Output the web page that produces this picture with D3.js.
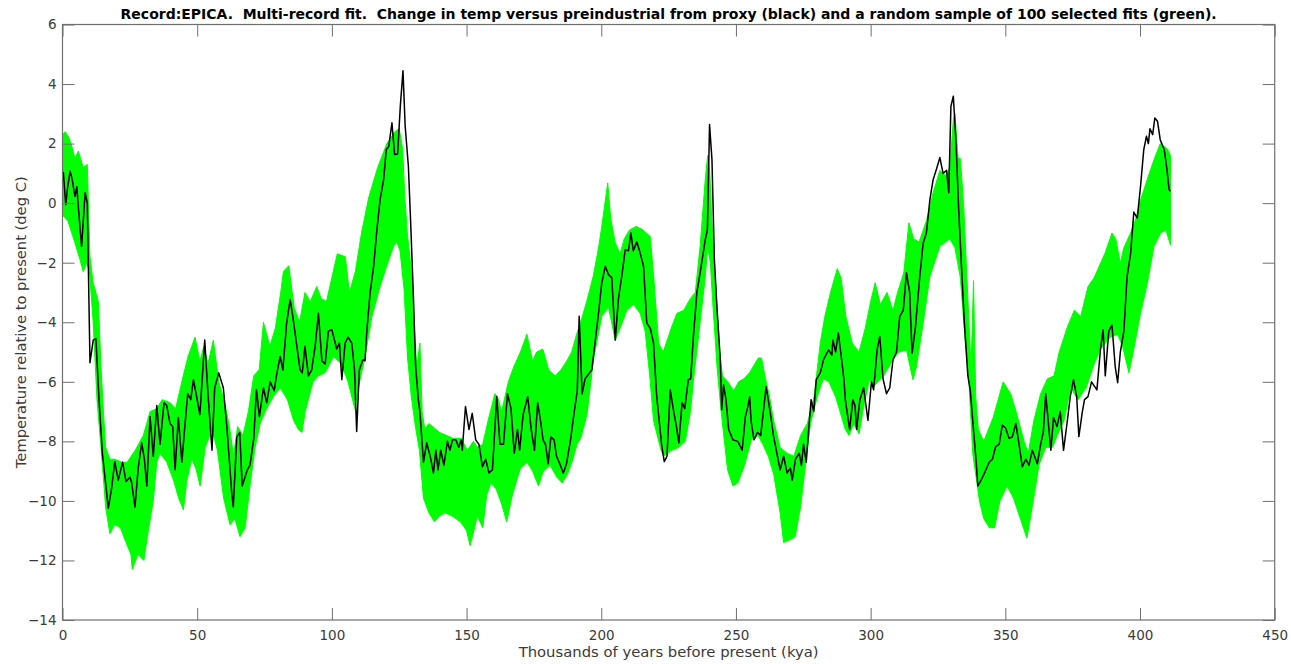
<!DOCTYPE html>
<html>
<head>
<meta charset="utf-8">
<script src="https://cdn.jsdelivr.net/npm/d3@7/dist/d3.min.js"></script>
<style>
  html, body { margin: 0; padding: 0; background: #fff; }
  svg { display: block; }
</style>
</head>
<body>
<svg id="chart" width="1291" height="664"></svg>
<script>
// EPICA proxy temperature (kya before present, deg C relative to present)
const proxyAge = [0.3,1.2,2.0,2.8,3.6,4.6,5.3,6.2,7.1,8.4,9.2,10.2,11.4,12.4,13.5,14.8,16.0,17.0,18.2,19.4,20.7,22.3,23.6,25.1,25.7,26.9,28.1,29.4,30.4,31.3,32.5,33.7,35.0,36.2,37.7,38.7,39.9,40.9,41.8,43.0,44.3,45.5,46.5,47.6,48.6,49.8,51.0,52.8,54.0,55.5,56.5,58.0,59.7,61.0,62.8,63.4,64.7,65.8,66.7,68.6,69.6,71.0,72.0,73.1,74.6,75.8,77.1,78.6,79.6,80.8,81.8,83.2,84.5,85.5,87.0,88.2,89.0,90.0,91.3,92.5,93.8,95.0,96.3,97.5,98.7,100.0,101.8,102.8,103.7,104.9,106.0,107.4,108.4,109.2,110.2,111.5,112.3,113.0,114.2,115.5,116.7,117.9,119.2,120.2,121.1,122.3,123.3,124.4,125.4,126.4,127.2,128.4,129.4,130.3,131.1,132.1,132.7,134.0,135.2,136.5,137.7,138.6,139.4,140.4,141.6,142.9,143.8,144.8,146.0,147.1,148.0,148.4,149.6,150.9,152.1,153.4,154.6,155.9,157.1,158.3,159.6,161.2,162.4,163.7,165.2,166.5,167.7,168.9,169.7,171.0,172.7,174.0,175.2,176.4,177.6,178.4,179.3,180.3,181.3,182.5,183.4,184.6,185.9,187.1,188.6,189.9,191.1,191.8,192.9,194.0,196.5,199.0,200.2,201.5,202.7,203.9,205.2,206.4,207.7,208.9,210.1,211.0,211.9,213.2,214.4,215.7,216.9,218.2,219.4,220.6,222.5,223.4,224.4,225.6,226.9,227.9,228.8,230.0,231.0,232.3,233.2,234.2,235.5,236.7,238.6,239.4,240.2,241.1,242.0,243.0,244.2,244.7,245.4,246.3,247.3,248.9,250.7,252.3,253.5,254.5,255.1,255.6,256.7,258.0,259.2,261.2,262.7,263.9,265.2,266.4,267.7,269.0,270.2,270.9,272.1,273.5,274.3,275.1,276.1,277.0,277.9,278.9,279.8,281.3,282.5,284.4,285.6,286.0,287.0,288.0,288.9,290.1,290.6,292.2,293.4,294.2,294.8,296.0,297.4,299.0,300.3,301.1,302.4,303.4,304.6,305.9,307.1,308.3,309.6,310.8,312.1,313.3,314.5,314.9,315.4,316.6,318.2,319.5,320.7,322.0,323.2,324.4,325.7,326.9,328.2,329.0,329.8,330.7,331.7,332.7,333.6,334.8,336.1,337.0,337.9,339.2,339.8,341.0,342.1,344.0,345.2,346.4,347.7,348.9,350.1,351.4,352.6,353.9,355.1,356.3,357.6,358.8,360.0,361.9,363.1,364.1,365.0,366.2,366.9,367.9,369.2,370.4,371.6,372.9,374.1,375.3,376.5,377.3,378.6,379.4,380.7,382.0,384.0,385.3,386.3,387.1,388.4,389.6,390.8,391.7,392.7,394.0,395.2,396.5,397.7,399.0,400.2,401.4,402.4,403.1,403.7,404.7,405.5,406.5,407.5,409.0,410.0,410.8,411.3];
const proxyTemp = [1.05,-0.05,0.6,1.07,0.8,0.23,0.55,-0.5,-1.45,0.35,0.0,-5.36,-4.6,-4.55,-6.5,-8.4,-9.4,-10.24,-9.6,-8.68,-9.3,-8.7,-9.35,-9.2,-9.4,-10.2,-8.9,-8.05,-8.6,-9.5,-7.17,-8.5,-6.8,-8.1,-6.7,-6.8,-7.4,-7.5,-8.95,-7.2,-8.7,-7.4,-6.4,-6.6,-5.93,-6.5,-7.1,-4.6,-6.4,-8.3,-6.2,-5.7,-6.2,-7.5,-9.7,-10.2,-7.85,-7.7,-9.5,-8.96,-8.8,-7.9,-6.27,-7.17,-6.2,-6.7,-6.0,-6.3,-5.7,-5.15,-5.6,-4.03,-3.24,-3.8,-4.8,-5.6,-5.7,-4.81,-5.8,-5.6,-4.8,-3.7,-5.3,-5.4,-4.3,-4.25,-4.9,-4.7,-5.93,-4.7,-4.5,-4.7,-5.6,-7.67,-5.6,-5.26,-5.3,-4.25,-3.0,-2.12,-0.9,0.12,0.79,1.8,1.9,2.7,1.63,1.65,3.25,4.45,2.6,1.24,-1.0,-3.24,-5.49,-6.6,-7.03,-8.7,-8.05,-8.5,-9.06,-8.3,-8.96,-8.3,-8.8,-8.0,-8.3,-7.95,-7.95,-8.2,-7.95,-8.3,-6.83,-7.6,-7.06,-7.95,-8.1,-8.85,-8.6,-9.06,-8.96,-6.5,-8.1,-8.1,-6.4,-6.9,-8.4,-7.6,-8.3,-7.1,-6.5,-7.6,-8.3,-6.7,-7.4,-7.95,-8.1,-8.75,-7.85,-7.95,-8.5,-8.75,-9.06,-8.75,-7.95,-7.05,-6.3,-3.8,-6.4,-5.9,-5.6,-3.68,-2.67,-2.12,-2.4,-2.5,-4.6,-3.2,-2.4,-1.56,-1.6,-1.0,-1.6,-1.3,-1.66,-2.12,-4.03,-4.2,-4.7,-6.5,-8.18,-8.68,-8.5,-6.27,-7.0,-7.5,-8.05,-6.7,-6.9,-5.93,-5.9,-4.48,-3.0,-2.34,-1.23,-0.9,2.64,1.46,-1.9,-3.58,-5.26,-6.94,-6.1,-6.6,-7.6,-7.95,-8.0,-8.3,-7.17,-6.8,-6.5,-7.3,-7.95,-7.7,-7.8,-6.16,-7.0,-7.8,-8.4,-8.96,-8.5,-9.06,-8.9,-9.3,-8.6,-8.4,-8.8,-8.1,-8.7,-7.6,-6.6,-7.0,-5.93,-5.7,-5.26,-4.93,-5.1,-4.6,-5.0,-4.36,-5.0,-5.93,-6.6,-7.6,-6.6,-6.8,-7.6,-6.6,-6.2,-7.3,-6.0,-6.27,-4.93,-4.48,-5.9,-6.4,-6.2,-5.26,-5.0,-3.8,-3.6,-2.34,-3.0,-4.0,-5.03,-4.2,-2.5,-1.34,-1.0,0.12,0.79,1.13,1.53,1.0,1.1,0.35,3.25,3.59,2.03,-0.25,-1.9,-4.03,-5.8,-6.3,-7.3,-8.7,-9.5,-9.3,-9.1,-8.7,-8.6,-8.18,-8.1,-7.45,-7.55,-7.9,-7.85,-7.4,-8.1,-8.85,-8.6,-8.8,-8.3,-8.75,-8.1,-7.7,-6.4,-7.6,-8.3,-7.2,-7.5,-7.0,-8.3,-7.4,-6.5,-5.93,-6.5,-7.84,-7.0,-6.6,-6.5,-6.0,-6.27,-4.93,-4.25,-5.8,-4.3,-4.1,-5.5,-6.03,-5.0,-4.3,-2.46,-1.7,-0.3,-0.5,0.57,1.8,2.25,2.0,2.5,2.3,2.86,2.75,2.13,1.8,1.13,0.45,0.4];

// Envelope of the 100 selected fits: warm edge and cold edge
const fitHighAge = [0,1,2.4,3.5,4.6,5.9,7.7,9.2,10.2,11.4,13.3,14.3,15.2,16,17.6,19.4,22,24,27,30,32.5,35,37,40,42,44.3,46.6,49.2,51,52.5,54,56,58,60,62,63.5,65,67,69,71,73,74.6,77,79,81,82,84,86,88,90,92,94.4,96,98,100,102,105,106.5,108.7,111,113.7,117,120.4,123.4,125,126.3,127,128,129.3,130.5,131.5,132.7,133.5,134.5,136,140,145,148,150.3,152.5,154,156,158,160.5,161.5,163,165.5,167.5,170,172.4,174.5,176,178.3,180.5,183,185,187.2,189,191,193,194.6,197,199,200.2,202.4,203.5,205.2,207,208.5,210.5,213,215.5,218.2,219.5,221.3,223,226.2,228.1,230.6,233.1,234.9,236.7,238.6,239.5,240.3,241,242,243,244,245,247,249.2,251,252.9,255,258.3,259.5,261,262.5,264,266.4,269,271.5,274,276.5,279,281.3,283,285.1,287.6,289,290.8,293.2,295.7,298,300,301.7,303.6,306.1,308.3,310,312.3,314.2,316,318,320.7,323.2,325.7,328.2,329.5,330.7,331.3,332.5,333.3,334.5,335.5,336.5,337.3,338.2,339,340,342,345.5,349.2,352,354,357,358.5,360.6,363.1,365.6,368.1,370,373.1,375.6,378,380.7,383,387.1,389.6,391,392.7,394,396.5,398.5,400.2,402.7,405.2,407.5,409,410.3,411.3];
const fitHighTemp = [2.3,2.4,2.2,1.9,1.5,1.75,1.2,1.3,-1.8,-2.67,-3.3,-5.5,-7.0,-8.2,-8.6,-8.6,-8.7,-8.7,-8.3,-7.8,-7.0,-6.9,-6.6,-6.7,-6.9,-6.0,-5.15,-4.5,-5.3,-4.8,-5.4,-4.6,-6.0,-6.6,-7.5,-8.5,-7.5,-7.8,-7.0,-5.8,-5.6,-4.0,-4.8,-4.2,-3.0,-2.3,-2.1,-3.5,-4.0,-3.0,-3.3,-2.8,-3.2,-3.3,-2.5,-1.7,-1.8,-3.0,-2.3,-1.0,0.2,1.2,2.0,2.4,2.5,1.8,0.3,-1.0,-2.1,-4.0,-5.5,-4.7,-7.0,-7.6,-7.4,-7.7,-7.9,-7.9,-8.3,-8.0,-8.2,-8.1,-7.3,-6.4,-6.5,-7.0,-6.0,-5.5,-5.0,-4.4,-5.3,-5.0,-4.9,-5.6,-5.8,-5.6,-5.3,-5.0,-4.36,-3.8,-3.3,-2.46,-1.5,-0.78,0.68,-0.5,-1.33,-1.7,-1.2,-0.9,-0.78,-0.9,-1.12,-2.5,-4.7,-5.0,-4.14,-3.7,-3.6,-3.2,-3.0,-1.45,0.79,1.6,1.0,-0.5,-2.0,-3.5,-5.0,-5.8,-6.0,-6.3,-6.0,-5.9,-5.7,-5.2,-5.2,-5.9,-6.5,-7.3,-8.2,-8.4,-8.5,-7.8,-7.4,-6.5,-4.7,-3.8,-3.0,-2.2,-2.5,-3.8,-4.7,-5.0,-4.2,-3.3,-2.67,-3.4,-3.0,-3.6,-3.0,-2.34,-0.66,-1.2,-1.3,-0.6,0.35,1.1,0.9,1.3,2.8,3.0,1.5,1.5,0.0,-2.0,-4.0,-5.5,-2.6,-6.5,-7.6,-8.0,-7.2,-6.0,-6.4,-7.0,-8.0,-8.4,-7.3,-6.4,-5.9,-5.8,-5.0,-4.14,-3.6,-3.8,-2.8,-2.5,-1.66,-1.0,-1.2,-2.0,-1.5,-1.0,-0.5,0.1,0.8,1.46,2.0,1.9,1.8,1.6];
const fitLowAge = [0,2,4.6,6.5,7.7,9,10,11.4,12.8,14.3,16,17.6,19.4,21.5,23.6,25.4,25.9,28,30.2,31.5,33.7,35,36.2,38.7,41.2,43.1,44.9,46.2,48,49.5,51.1,53,55.5,57.5,59.8,62.2,64,65.9,67.8,69.6,71.5,73.4,75.8,78.3,80.8,83.5,85.8,87.6,88.9,90.1,93,95,97.5,100.6,103.5,106,108.5,110.3,112,113,114.9,117.9,120.4,122.9,124.1,125.3,126.8,128.1,129.5,131,132.5,134,136,138.1,140,142,144.5,147.7,150,151.3,153,154,156,157.5,159,161,163,164.9,167,170,172.5,174.5,176.7,178.5,181,183.5,185.5,187.5,189.5,191,192.4,194.7,195.5,197.1,200.2,202.7,205.2,207,209.5,212,214.4,216.3,218,219.4,221.9,223.1,224.5,226.2,228.8,231.2,233.1,234.3,236.7,238.6,239.5,240.5,241.5,243,244.5,246.9,248.9,250.7,253.2,255.7,258.2,260,262,264,266.4,267.7,270.2,272,274,275.8,277.7,280.2,282.4,284.5,287,290.6,292,293.8,295.7,297.5,299.6,301.1,304.8,308.3,310.5,313.3,315.7,317,319.5,322,325.7,329.4,331.3,333.3,335,336.5,337.9,340.4,342,344.1,346,348,350.7,353,355.6,358,360,362.5,365,367.5,369.3,371.8,374.3,377,380,383,385.3,389,391.6,393.5,395.9,397.5,400.2,402.7,405.2,407.7,409.6,411.3];
const fitLowTemp = [-0.4,-0.6,-1.33,-1.9,-2.3,-2.0,-2.3,-4.0,-6.6,-8.2,-10.2,-11.1,-10.8,-10.9,-11.4,-11.8,-12.3,-11.8,-12.0,-11.2,-10.0,-8.7,-8.4,-8.7,-9.3,-9.9,-10.3,-9.3,-8.6,-8.9,-9.5,-8.2,-7.6,-8.3,-9.9,-10.8,-10.6,-11.2,-10.9,-9.5,-8.2,-7.4,-6.9,-6.5,-6.2,-6.6,-7.3,-7.6,-7.7,-7.0,-6.0,-5.8,-5.7,-5.15,-5.4,-6.0,-6.9,-6.0,-5.3,-4.8,-3.8,-2.8,-2.1,-1.45,-1.3,-1.6,-2.9,-5.2,-6.5,-7.5,-8.3,-9.9,-10.4,-10.7,-10.5,-10.4,-10.5,-10.7,-11.0,-11.5,-10.9,-10.5,-10.9,-9.8,-9.4,-9.6,-10.1,-10.7,-9.8,-8.9,-8.7,-9.0,-9.5,-9.0,-8.8,-9.2,-9.4,-9.1,-8.6,-8.1,-7.9,-7.1,-6.5,-5.26,-3.8,-3.5,-4.6,-4.2,-3.6,-3.4,-3.7,-4.3,-5.8,-7.3,-8.2,-8.5,-8.4,-8.3,-8.2,-8.0,-7.0,-5.9,-4.0,-2.5,-1.45,-2.0,-3.5,-5.5,-7.0,-8.96,-9.5,-9.4,-8.8,-7.95,-7.8,-8.1,-8.5,-9.1,-10.4,-11.4,-11.3,-11.2,-10.2,-8.8,-7.4,-6.5,-5.9,-6.0,-6.5,-7.6,-7.8,-7.4,-7.75,-6.8,-5.9,-6.16,-5.8,-5.26,-5.0,-4.93,-5.93,-5.5,-4.03,-2.46,-1.45,-1.2,-1.5,-2.5,-4.5,-6.0,-8.4,-10.0,-10.6,-10.9,-10.9,-10.0,-9.5,-9.9,-10.6,-11.25,-10.2,-8.8,-8.2,-8.2,-7.8,-7.3,-6.2,-6.6,-6.2,-5.4,-4.9,-4.5,-4.4,-4.8,-5.7,-5.0,-3.7,-2.7,-1.45,-1.0,-0.9,-1.4];

const xTicks = [0, 50, 100, 150, 200, 250, 300, 350, 400, 450];
const yTicks = [-14, -12, -10, -8, -6, -4, -2, 0, 2, 4, 6];

const titleText = "Record:EPICA.  Multi-record fit.  Change in temp versus preindustrial from proxy (black) and a random sample of 100 selected fits (green).";
const xLabel = "Thousands of years before present (kya)";
const yLabel = "Temperature relative to present (deg C)";

const svg = d3.select("#chart");
const plotLeft = 62.5, plotRight = 1274.7, plotTop = 24.5, plotBottom = 620;

const x = d3.scaleLinear().domain([0, 450]).range([plotLeft, plotRight]);
const y = d3.scaleLinear().domain([-14, 6]).range([plotBottom, plotTop]);

const fontFamily = "'DejaVu Sans', 'Open Sans', sans-serif";
const axisColor = "#6f6f6f";

// Fit envelope, drawn as one closed band
const high = fitHighAge.map((a, i) => [a, fitHighTemp[i]]);
const low = fitLowAge.map((a, i) => [a, fitLowTemp[i]]);
const line = d3.line().x(d => x(d[0])).y(d => y(d[1]));

svg.append("path")
  .attr("d", line(high.concat(low.slice().reverse())) + "Z")
  .attr("fill", "#00ff00")
  .attr("stroke", "#00ff00")
  .attr("stroke-width", 1)
  .attr("stroke-linejoin", "round");

// Proxy record
const proxy = proxyAge.map((a, i) => [a, proxyTemp[i]]);
svg.append("path")
  .attr("d", line(proxy))
  .attr("fill", "none")
  .attr("stroke", "#000")
  .attr("stroke-width", 1.5)
  .attr("stroke-linejoin", "round");

// Axes box with inward ticks on all four sides
function styleAxis(g) {
  g.select(".domain").remove();
  g.selectAll(".tick line").attr("stroke", axisColor).attr("stroke-width", 1);
  g.selectAll(".tick text")
    .attr("fill", "#3a3a3a")
    .style("font-family", fontFamily)
    .style("font-size", "13.5px");
}

svg.append("g")
  .attr("transform", `translate(0,${plotBottom})`)
  .call(d3.axisBottom(x).tickValues(xTicks).tickFormat(d3.format("d"))
    .tickSize(-12).tickSizeOuter(0).tickPadding(10))
  .call(styleAxis);

svg.append("g")
  .attr("transform", `translate(0,${plotTop})`)
  .call(d3.axisTop(x).tickValues(xTicks).tickFormat("")
    .tickSize(-12).tickSizeOuter(0))
  .call(styleAxis);

svg.append("g")
  .attr("transform", `translate(${plotLeft},0)`)
  .call(d3.axisLeft(y).tickValues(yTicks).tickFormat(d3.format("d"))
    .tickSize(-12).tickSizeOuter(0).tickPadding(6))
  .call(styleAxis);

svg.append("g")
  .attr("transform", `translate(${plotRight},0)`)
  .call(d3.axisRight(y).tickValues(yTicks).tickFormat("")
    .tickSize(-12).tickSizeOuter(0))
  .call(styleAxis);

svg.append("rect")
  .attr("x", plotLeft).attr("y", plotTop)
  .attr("width", plotRight - plotLeft).attr("height", plotBottom - plotTop)
  .attr("fill", "none")
  .attr("stroke", axisColor)
  .attr("stroke-width", 1.2);

// Titles
svg.append("text")
  .attr("x", (plotLeft + plotRight) / 2)
  .attr("y", 19)
  .attr("text-anchor", "middle")
  .attr("textLength", 1096)
  .attr("lengthAdjust", "spacingAndGlyphs")
  .style("white-space", "pre")
  .style("font-family", "'DejaVu Sans Condensed', 'DejaVu Sans', sans-serif")
  .style("font-weight", "bold")
  .style("font-size", "14px")
  .attr("fill", "#000")
  .text(titleText);

svg.append("text")
  .attr("x", (plotLeft + plotRight) / 2)
  .attr("y", 657)
  .attr("text-anchor", "middle")
  .style("font-family", fontFamily)
  .style("font-size", "14.8px")
  .attr("fill", "#3a3a3a")
  .text(xLabel);

svg.append("text")
  .attr("transform", `translate(26,${(plotTop + plotBottom) / 2}) rotate(-90)`)
  .attr("text-anchor", "middle")
  .style("font-family", fontFamily)
  .style("font-size", "14.7px")
  .attr("fill", "#3a3a3a")
  .text(yLabel);
</script>
</body>
</html>
